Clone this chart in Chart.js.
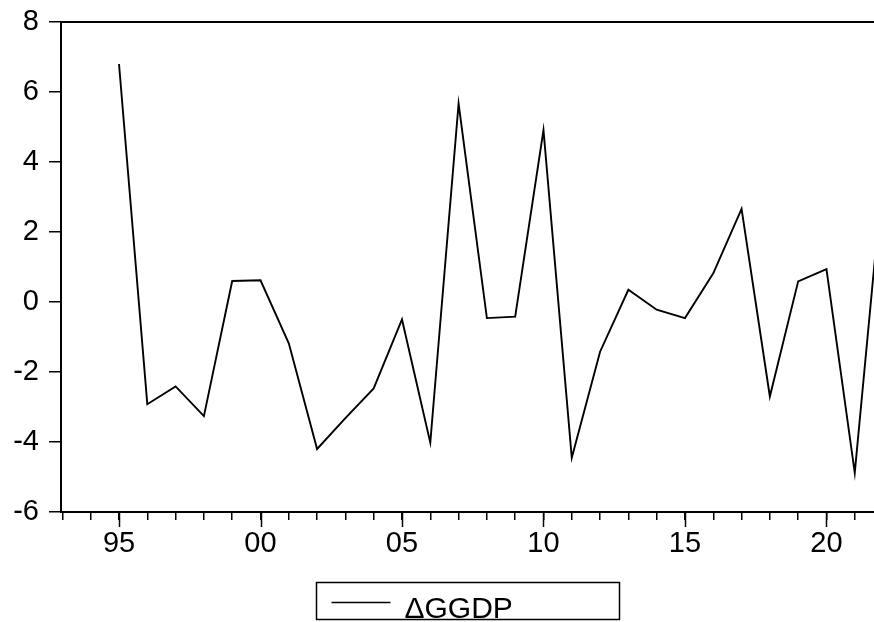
<!DOCTYPE html>
<html>
<head>
<meta charset="utf-8">
<script src="https://cdn.jsdelivr.net/npm/chart.js@4/dist/chart.umd.min.js"></script>
<style>
    html, body { margin: 0; padding: 0; background: #fff; overflow: hidden; }
    #wrap { width: 874px; height: 622px; }
</style>
</head>
<body>
<div id="wrap"><canvas id="ggdpChart" width="874" height="622"></canvas></div>
<script>
// Delta GGDP, yearly
const years = [1995, 1996, 1997, 1998, 1999, 2000, 2001, 2002, 2003, 2004,
               2005, 2006, 2007, 2008, 2009, 2010, 2011, 2012, 2013, 2014,
               2015, 2016, 2017, 2018, 2019, 2020, 2021, 2022];
const ggdpDelta = [6.80, -2.92, -2.41, -3.26, 0.60, 0.62, -1.18, -4.20, -3.32, -2.47,
                   -0.50, -4.02, 5.67, -0.46, -0.42, 4.91, -4.45, -1.42, 0.35, -0.22,
                   -0.46, 0.82, 2.66, -2.70, 0.59, 0.94, -4.88, 3.70];
const seriesLabel = '\u0394GGDP';
const yTicks = [-6, -4, -2, 0, 2, 4, 6, 8];
const xMin = 1992.95;
const xMax = 2021.68;

const FONT = "'Liberation Sans', Arial, sans-serif";

// top frame line, long major ticks and the boxed legend
const eviewsFrame = {
    id: 'eviewsFrame',
    afterDraw(chart) {
        const ctx = chart.ctx;
        const area = chart.chartArea;
        const xs = chart.scales.x;
        ctx.save();
        ctx.strokeStyle = '#000';
        ctx.lineWidth = 2;
        ctx.beginPath();
        ctx.moveTo(area.left - 1, area.top);
        ctx.lineTo(area.right, area.top);
        ctx.stroke();

        // major ticks every 5 years
        ctx.lineWidth = 1.5;
        for (let y = 1995; y <= 2020; y += 5) {
            const px = Math.round(xs.getPixelForValue(y)) + 0.5;
            ctx.beginPath();
            ctx.moveTo(px, area.bottom);
            ctx.lineTo(px, area.bottom + 15);
            ctx.stroke();
        }

        // legend
        const boxW = 303, boxH = 37;
        const cx = (area.left + area.right) / 2;
        const bx = Math.round(cx - boxW / 2) + 0.5;
        const by = 582.5;
        ctx.lineWidth = 1.5;
        ctx.strokeRect(bx, by, boxW, boxH);
        ctx.beginPath();
        ctx.moveTo(bx + 15, by + 20);
        ctx.lineTo(bx + 74, by + 20);
        ctx.stroke();
        ctx.fillStyle = '#000';
        ctx.font = '30px ' + FONT;
        ctx.textBaseline = 'alphabetic';
        ctx.textAlign = 'left';
        ctx.fillText(seriesLabel, bx + 88, by + 35);
        ctx.restore();
    }
};

new Chart(document.getElementById('ggdpChart'), {
    type: 'line',
    data: {
        datasets: [{
            label: seriesLabel,
            data: years.map((yr, i) => ({ x: yr, y: ggdpDelta[i] })),
            borderColor: '#000',
            borderWidth: 1.9,
            pointRadius: 0,
            tension: 0,
            fill: false
        }]
    },
    options: {
        responsive: false,
        animation: false,
        events: [],
        layout: { padding: { top: 22, left: 0, right: 0, bottom: 0 } },
        plugins: {
            legend: { display: false },
            tooltip: { enabled: false }
        },
        scales: {
            x: {
                type: 'linear',
                min: xMin,
                max: xMax,
                afterBuildTicks: function(scale) {
                    const t = [];
                    for (let y = 1993; y <= 2021; y++) t.push({ value: y });
                    scale.ticks = t;
                },
                afterFit: function(scale) {
                    scale.height = 110;
                    scale.paddingLeft = 0;
                    scale.paddingRight = 0;
                },
                border: { display: true, color: '#000', width: 2 },
                grid: {
                    drawOnChartArea: false,
                    drawTicks: true,
                    tickLength: 8,
                    lineWidth: 1.5,
                    color: '#000'
                },
                ticks: {
                    autoSkip: false,
                    maxRotation: 0,
                    padding: 7,
                    color: '#000',
                    font: { family: FONT, size: 29 },
                    callback: function(value) {
                        if (value % 5 !== 0) return '';
                        return String(value % 100).padStart(2, '0');
                    }
                }
            },
            y: {
                min: -6,
                max: 8,
                afterBuildTicks: function(scale) {
                    scale.ticks = yTicks.map(v => ({ value: v }));
                },
                afterFit: function(scale) {
                    scale.width = 61;
                    scale.paddingTop = 0;
                    scale.paddingBottom = 0;
                },
                border: { display: true, color: '#000', width: 2 },
                grid: {
                    drawOnChartArea: false,
                    drawTicks: true,
                    tickLength: 12,
                    lineWidth: 1.5,
                    color: '#000'
                },
                ticks: {
                    padding: 10,
                    color: '#000',
                    font: { family: FONT, size: 29 }
                }
            }
        }
    },
    plugins: [eviewsFrame]
});
</script>
</body>
</html>
